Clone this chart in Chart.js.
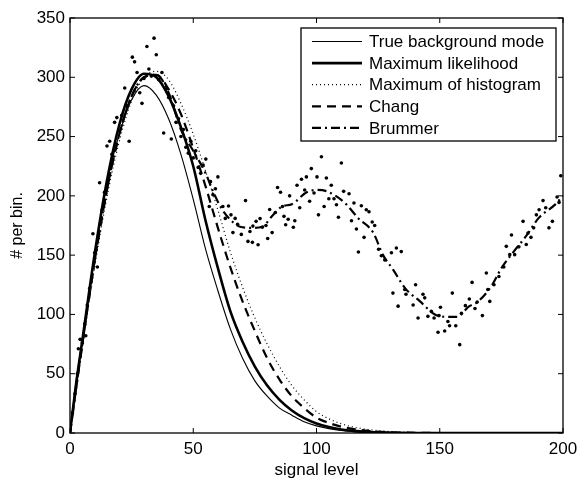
<!DOCTYPE html>
<html>
<head>
<meta charset="utf-8">
<script src="https://cdn.jsdelivr.net/npm/chart.js@4.4.0/dist/chart.umd.min.js"></script>
<style>
html, body { margin: 0; padding: 0; background: #fff; }
#wrap { width: 579px; height: 481px; }
</style>
</head>
<body>
<div id="wrap"><canvas id="grafico"></canvas></div>
<script>
/* curves, read at these signal levels */
const curveX   = [0, 2.5, 5, 10, 15, 20, 25, 30, 35, 40, 45, 50, 55, 60, 65, 70, 75, 80, 85, 90, 95, 100, 105, 110, 115, 120, 130, 140, 150, 200];
const trueMode = [0, 44, 79, 150, 211, 252, 281, 293, 285, 265, 235, 197, 155, 120, 88, 63, 44, 31, 21, 15, 9.5, 6, 3.7, 2.1, 1.2, 0.6, 0.1, 0, 0, 0];
const maxLik   = [0, 42, 78, 151, 213, 260, 290, 303, 300, 284, 258, 225, 179, 139, 103, 77, 56, 40, 28, 19, 12.5, 8, 5, 3, 1.8, 1, 0.3, 0, 0, 0];
const maxHist  = [0, 36, 72, 140, 199, 246, 280, 300, 305, 298, 278, 252, 221, 188, 153, 123, 97, 75, 56, 40, 28, 18, 12, 7.8, 5, 3.2, 1.2, 0.4, 0.1, 0];
const chang    = [0, 38, 75, 145, 205, 252, 284, 300, 302, 290, 269, 240, 208, 173, 140, 111, 86, 63, 45, 31, 21, 13, 8.5, 5.3, 3.3, 2, 0.6, 0.2, 0, 0];

/* Brummer (smoothed histogram) */
const brummerX = [0, 5, 10, 15, 20, 25, 30, 35, 40, 45, 50, 55, 58, 61, 65, 69, 74, 78, 82, 86, 90, 96, 100, 104, 111, 117, 123, 127, 131, 136, 142, 148, 153, 157, 162, 165, 171, 175, 180, 185, 190, 197, 200];
const brummerY = [0, 75, 145, 205, 252, 284, 300, 302, 287, 256, 238, 219, 204, 191, 180, 174, 173, 174, 183, 191, 193, 203, 205, 204, 195, 181, 169, 150, 138, 122, 111, 100, 98, 98, 107, 110, 124, 139, 153, 166, 181, 193, 200];

/* histogram counts (dots) */
const histX = [0, 1, 2, 3, 3.4, 4.1, 5, 6, 6.4, 7, 8, 9.3, 10, 11.1, 12, 13, 14, 15, 16.1, 17, 18.1, 19, 20, 21, 22.2, 23, 24, 25.3, 26.2, 27.2, 28.3, 29.2, 30, 31.2, 32, 33, 34.1, 35, 36, 37.3, 38, 39, 40, 41.1, 42, 43, 44, 45, 46, 47, 48, 49, 50, 51, 52, 53, 54, 55.1, 56.5, 57, 58, 59, 60, 62, 63, 64.3, 65.3, 66.1, 67, 68, 69.5, 71.2, 72.2, 73, 74, 74.2, 75.5, 76.3, 77.1, 78, 79.5, 80.2, 81, 82, 83.3, 84.2, 85.4, 86.2, 86.8, 87.5, 88.5, 89.1, 90.6, 91.2, 92.1, 93.2, 93.9, 95.2, 95.9, 97.2, 97.9, 99, 100.2, 100.8, 102, 103.1, 104, 105, 106, 107.1, 108.1, 108.9, 110.1, 111, 113.2, 114.2, 115.2, 116.2, 117, 118.2, 119.3, 120.2, 121.3, 122.6, 123.6, 125.2, 126.3, 127.7, 130.4, 131, 132.4, 133.1, 134.4, 135.8, 136.3, 139.2, 140.2, 141.2, 143.2, 143.9, 145.2, 146.6, 147.7, 149.3, 149.7, 150.3, 152, 153.3, 154, 155.1, 156.5, 158.1, 158.8, 160.4, 162, 163.1, 164.3, 165.2, 167.3, 168.9, 169.5, 170.3, 172, 174, 176, 177, 178.4, 179.1, 180.4, 182.1, 183.8, 185.1, 185.8, 187, 188.1, 189.2, 190.3, 191.9, 193, 194.3, 195.7, 197.6, 198.4, 199.1];
const histY = [2, 17, 33, 50, 71, 79, 76, 92, 82, 108, 122, 168, 152, 140, 211, 188, 203, 242, 246, 235, 262, 266, 255, 268, 291, 276, 246, 317, 313, 304, 287, 278, 299, 326, 307, 301, 333, 319, 298, 304, 253, 290, 283, 248, 276, 262, 265, 250, 256, 241, 236, 246, 232, 238, 224, 219, 226, 231, 191, 212, 201, 206, 216, 191, 181, 191.5, 184, 169, 181, 176, 167.5, 196, 161.6, 170, 160.8, 174.5, 178.5, 158.8, 180.8, 173.5, 175, 164, 188.5, 169, 186, 207, 203, 191, 182.7, 175.6, 180.3, 200, 173.5, 179, 209, 190, 214, 205, 216, 195.4, 223, 202.4, 216, 184, 233, 191, 215, 197.6, 209, 197.6, 192.5, 182, 227.7, 203.8, 201.8, 179, 194, 172, 152.7, 191.7, 165, 188.3, 186.6, 178, 175, 155, 149.5, 146, 152, 118, 156, 107, 153, 121, 117, 108, 125, 97, 117, 114, 98.4, 102.6, 97, 85, 99, 106, 86, 94, 90.5, 118, 90.5, 74.5, 101, 107.4, 113, 127, 105, 110.5, 99, 135, 121, 111, 125, 132, 140, 157.4, 150.4, 167, 150.4, 157, 178.5, 159, 168.7, 165, 173, 184, 188.3, 196, 190, 173, 178.5, 199, 194.5, 217];

const xTicks = [0, 50, 100, 150, 200];
const yTicks = [0, 50, 100, 150, 200, 250, 300, 350];

const legendNames = ['True background mode', 'Maximum likelihood', 'Maximum of histogram', 'Chang', 'Brummer'];

const toPts = (xs, ys) => xs.map((v, i) => ({ x: v, y: ys[i] }));

const lineStyles = [
    { borderWidth: 1.1, borderDash: [] },
    { borderWidth: 2.6, borderDash: [] },
    { borderWidth: 1.2, borderDash: [1, 3] },
    { borderWidth: 2.2, borderDash: [9, 6] },
    { borderWidth: 2.2, borderDash: [9, 4, 2, 4] }
];

const curveSet = (name, pts, k) => ({
    label: name,
    data: pts,
    showLine: true,
    pointRadius: 0,
    borderColor: '#000',
    borderWidth: lineStyles[k].borderWidth,
    borderDash: lineStyles[k].borderDash,
    cubicInterpolationMode: 'monotone',
    fill: false
});

const FONT = "'Liberation Sans', Arial, Helvetica, sans-serif";

/* box, inward ticks and legend */
const marcoPlugin = {
    id: 'marco',
    afterDraw(chart) {
        const { ctx, chartArea: a, scales } = chart;
        const sx = scales.x, sy = scales.y;
        ctx.save();
        ctx.strokeStyle = '#000';
        ctx.lineWidth = 1.3;
        ctx.setLineDash([]);
        ctx.strokeRect(a.left, a.top, a.right - a.left, a.bottom - a.top);
        ctx.lineWidth = 1;
        ctx.beginPath();
        xTicks.forEach(v => {
            const px = sx.getPixelForValue(v);
            ctx.moveTo(px, a.bottom); ctx.lineTo(px, a.bottom - 5);
            ctx.moveTo(px, a.top); ctx.lineTo(px, a.top + 5);
        });
        yTicks.forEach(v => {
            const py = sy.getPixelForValue(v);
            ctx.moveTo(a.left, py); ctx.lineTo(a.left + 5, py);
            ctx.moveTo(a.right, py); ctx.lineTo(a.right - 5, py);
        });
        ctx.stroke();

        // legend
        const bw = 255, bh = 113;
        const bx = a.right - 7 - bw, by = a.top + 10;
        ctx.fillStyle = '#fff';
        ctx.fillRect(bx, by, bw, bh);
        ctx.lineWidth = 1.3;
        ctx.strokeRect(bx, by, bw, bh);
        ctx.font = '17px ' + FONT;
        ctx.textBaseline = 'middle';
        ctx.textAlign = 'left';
        legendNames.forEach((name, k) => {
            const ry = by + 13.5 + k * 21.6;
            ctx.lineWidth = lineStyles[k].borderWidth;
            ctx.setLineDash(lineStyles[k].borderDash);
            ctx.beginPath();
            ctx.moveTo(bx + 11, ry);
            ctx.lineTo(bx + 61, ry);
            ctx.stroke();
            ctx.fillStyle = '#000';
            ctx.fillText(name, bx + 68, ry + 1);
        });
        ctx.restore();
    }
};

const grafico = document.getElementById('grafico').getContext('2d');

new Chart(grafico, {
    type: 'scatter',
    data: {
        datasets: [
            curveSet(legendNames[0], toPts(curveX, trueMode), 0),
            curveSet(legendNames[1], toPts(curveX, maxLik), 1),
            curveSet(legendNames[2], toPts(curveX, maxHist), 2),
            curveSet(legendNames[3], toPts(curveX, chang), 3),
            curveSet(legendNames[4], toPts(brummerX, brummerY), 4),
            {
                label: 'histogram',
                data: toPts(histX, histY),
                showLine: false,
                pointRadius: 1.8,
                pointBorderWidth: 0,
                pointBackgroundColor: '#000',
                borderColor: '#000'
            }
        ]
    },
    options: {
        responsive: true,
        maintainAspectRatio: false,
        animation: false,
        layout: { padding: { left: 0, top: 18, right: 16, bottom: 0 } },
        plugins: {
            legend: { display: false },
            tooltip: { enabled: false }
        },
        scales: {
            x: {
                type: 'linear',
                min: 0,
                max: 200,
                afterFit: s => { s.height = 48; s.paddingLeft = 0; s.paddingRight = 0; },
                grid: { display: false, drawTicks: false },
                border: { display: false },
                ticks: {
                    stepSize: 50,
                    padding: 6,
                    color: '#000',
                    font: { size: 17, family: FONT }
                },
                title: {
                    display: true,
                    text: 'signal level',
                    color: '#000',
                    padding: { top: 0, bottom: 0 },
                    font: { size: 17, family: FONT }
                }
            },
            y: {
                type: 'linear',
                min: 0,
                max: 350,
                afterFit: s => { s.width = 70; s.paddingTop = 0; s.paddingBottom = 0; },
                grid: { display: false, drawTicks: false },
                border: { display: false },
                ticks: {
                    stepSize: 50,
                    padding: 5,
                    color: '#000',
                    font: { size: 17, family: FONT }
                },
                title: {
                    display: true,
                    text: '# per bin.',
                    color: '#000',
                    padding: { top: 8, bottom: 0 },
                    font: { size: 16, family: FONT }
                }
            }
        }
    },
    plugins: [marcoPlugin]
});
</script>
</body>
</html>
